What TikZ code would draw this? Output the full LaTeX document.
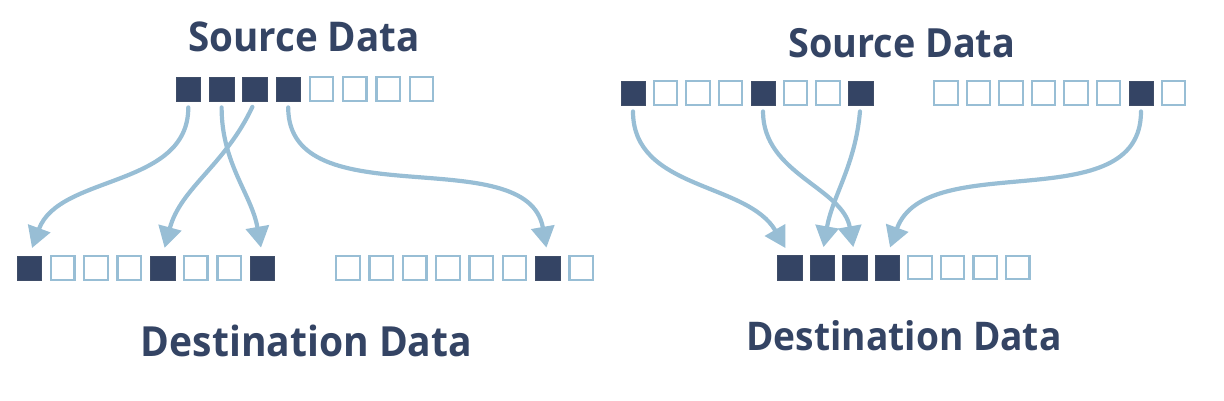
\documentclass[tikz,border=0pt]{standalone}
\usepackage{fontspec}
\setmainfont{Open Sans}
\newfontfamily\lblfam[FakeStretch=0.94]{Open Sans}
\usetikzlibrary{arrows.meta}
\definecolor{navy}{RGB}{52,68,100}
\definecolor{lblue}{RGB}{152,190,213}
\tikzset{
  dk/.style={fill=navy, draw=navy!85!gray, line width=0.4pt, minimum size=24.5pt, inner sep=0pt},
  lt/.style={fill=white, draw=lblue, line width=2.3pt, minimum size=23.5pt, inner sep=0pt},
  flow/.style={draw=lblue, line width=4.2pt, line cap=round, shorten <=6pt, shorten >=8pt,
    -{Triangle[length=21pt,width=23pt]}},
  lbl/.style={text=navy, anchor=base, inner sep=0pt}
}
\newcommand\lblfont[1]{\lblfam\fontsize{#1}{#1}\selectfont\bfseries}
\begin{document}
\begin{tikzpicture}[x=1pt,y=1pt]
  \useasboundingbox (0,0) rectangle (1224,401);
  % labels
  \node[lbl, font=\lblfont{41}] (srcl) at (304,349) {Source Data};
  \node[lbl, font=\lblfont{41.5}] (dstl) at (306.5,44.3) {Destination Data};
  \node[lbl, font=\lblfont{40.2}] (srcr) at (901.7,343.7) {Source Data};
  \node[lbl, font=\lblfont{39.5}] (dstr) at (904,50.3) {Destination Data};
  % left source
  \path
    (188.3,312) node[dk] (a0){}
    (221.6,312) node[dk] (a1){}
    (254.9,312) node[dk] (a2){}
    (288.2,312) node[dk] (a3){}
    (321.5,312) node[lt] (a4){}
    (354.8,312) node[lt] (a5){}
    (388.1,312) node[lt] (a6){}
    (421.4,312) node[lt] (a7){};
  % left destination
  \path
    (29.3,133) node[dk] (b0){}
    (62.6,133) node[lt] (b1){}
    (95.9,133) node[lt] (b2){}
    (129.2,133) node[lt] (b3){}
    (162.5,133) node[dk] (b4){}
    (195.8,133) node[lt] (b5){}
    (229.1,133) node[lt] (b6){}
    (262.4,133) node[dk] (b7){};
  \path
    (348.0,133) node[lt] (c0){}
    (381.3,133) node[lt] (c1){}
    (414.6,133) node[lt] (c2){}
    (447.9,133) node[lt] (c3){}
    (481.2,133) node[lt] (c4){}
    (514.5,133) node[lt] (c5){}
    (547.8,133) node[dk] (c6){}
    (581.1,133) node[lt] (c7){};
  % right source
  \path
    (633.0,308) node[dk] (d0){}
    (665.5,308) node[lt] (d1){}
    (698.0,308) node[lt] (d2){}
    (730.5,308) node[lt] (d3){}
    (763.0,308) node[dk] (d4){}
    (795.5,308) node[lt] (d5){}
    (828.0,308) node[lt] (d6){}
    (860.5,308) node[dk] (d7){};
  \path
    (946.0,308) node[lt] (e0){}
    (978.5,308) node[lt] (e1){}
    (1011.0,308) node[lt] (e2){}
    (1043.5,308) node[lt] (e3){}
    (1076.0,308) node[lt] (e4){}
    (1108.5,308) node[lt] (e5){}
    (1141.0,308) node[dk] (e6){}
    (1173.5,308) node[lt] (e7){};
  % right destination
  \path
    (789.5,133.5) node[dk] (f0){}
    (822.1,133.5) node[dk] (f1){}
    (854.7,133.5) node[dk] (f2){}
    (887.3,133.5) node[dk] (f3){}
    (919.9,133.5) node[lt] (f4){}
    (952.5,133.5) node[lt] (f5){}
    (985.1,133.5) node[lt] (f6){}
    (1017.7,133.5) node[lt] (f7){};
  % scatter
  \begin{scope}[flow]
    \draw (a0.south) to[out=-90,in=70] (b0.north);
    \draw (a1.south) to[out=-90,in=100] (b7.north);
    \draw (a2.south) to[out=-115,in=75] (b4.north);
    \draw (a3.south) to[out=-90,in=100] (c6.north);
  \end{scope}
  % gather
  \begin{scope}[flow]
    \draw (d0.south) to[out=-90,in=120] (f0.north);
    \draw (d4.south) to[out=-90,in=100] (f2.north);
    \draw (d7.south) to[out=-95,in=80] (f1.north);
    \draw (e6.south) to[out=-90,in=70] (f3.north);
  \end{scope}
\end{tikzpicture}
\end{document}
